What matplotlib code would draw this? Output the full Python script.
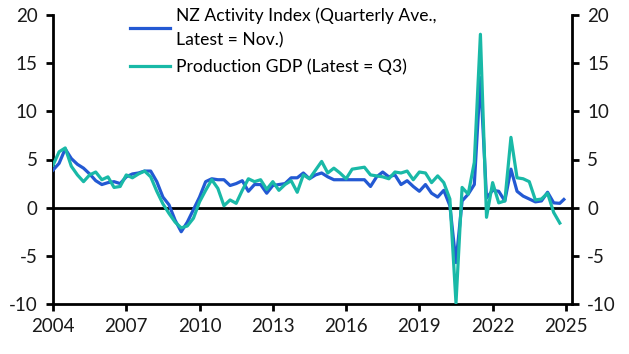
import numpy as np
import matplotlib
matplotlib.use("Agg")
import matplotlib.pyplot as plt

plt.rcParams['font.family'] = ['Lato', 'DejaVu Sans']

# Quarter-end dates (decimal years), 2003Q4 .. 2024Q3
gdp_start = 2004.0
gdp_values = [
    4.4, 5.8, 6.2, 4.3, 3.4, 2.7, 3.4, 3.7, 2.9, 3.2, 2.1, 2.2,
    3.4, 3.1, 3.5, 3.8, 3.2, 1.7, 0.4, -0.6, -1.5, -2.1, -1.9, -1.1,
    0.6, 1.8, 2.9, 2.0, 0.2, 0.8, 0.45, 1.8, 3.0, 2.7, 2.9, 1.9,
    2.7, 1.8, 2.4, 2.8, 1.6, 3.4, 3.0, 3.9, 4.8, 3.6, 4.1, 3.6,
    3.0, 4.0, 4.1, 4.2, 3.4, 3.3, 3.2, 3.0, 3.7, 3.6, 3.8, 2.9,
    3.7, 3.6, 2.6, 3.3, 2.6, 0.9, -9.9, 2.1, 1.4, 4.7, 18.0, -1.0,
    2.6, 0.5, 0.7, 7.3, 3.1, 3.0, 2.7, 0.8, 0.9, 1.5, -0.5, -1.6,
]
activity_values = [
    3.9, 4.6, 6.1, 5.1, 4.5, 4.1, 3.5, 2.8, 2.4, 2.6, 2.7, 2.5,
    3.2, 3.5, 3.6, 3.8, 3.8, 2.7, 1.1, 0.3, -1.3, -2.5, -1.5, -0.2,
    1.1, 2.7, 3.0, 2.9, 2.9, 2.3, 2.5, 2.8, 1.7, 2.4, 2.4, 1.5,
    2.3, 2.4, 2.5, 3.1, 3.1, 3.6, 3.0, 3.4, 3.6, 3.2, 2.9, 2.9,
    2.9, 2.9, 2.9, 2.9, 2.2, 3.2, 3.7, 3.2, 3.4, 2.4, 2.8, 2.2,
    1.7, 2.4, 1.5, 1.1, 1.8, 0.2, -5.7, 0.7, 1.4, 2.4, 13.5, 1.0,
    1.8, 1.7, 0.7, 4.0, 1.7, 1.2, 0.9, 0.6, 0.7, 1.6, 0.5, 0.45,
    0.85,
]
x_ticks = [2004, 2007, 2010, 2013, 2016, 2019, 2022, 2025]
y_ticks = [-10, -5, 0, 5, 10, 15, 20]
label_activity = "NZ Activity Index (Quarterly Ave.,\nLatest = Nov.)"
label_gdp = "Production GDP (Latest = Q3)"

gdp_x = gdp_start + 0.25 * np.arange(len(gdp_values))
act_x = list(gdp_start + 0.25 * np.arange(len(activity_values) - 1)) + [2024 + 11 / 12]

fig = plt.figure(figsize=(6.29, 3.54), dpi=100)
ax = fig.add_axes([53 / 629, 1 - 304 / 354, (572 - 53) / 629, (304 - 15) / 354])

blue = '#2359d3'
teal = '#19b9a7'
ax.axhline(0, color='black', lw=2.0, zorder=1)
l1, = ax.plot(act_x, activity_values, color=blue, lw=2.3, zorder=3, label=label_activity)
l2, = ax.plot(gdp_x, gdp_values, color=teal, lw=2.3, zorder=4, label=label_gdp)

ax.set_xlim(2004, 2025.25)
ax.set_ylim(-10, 20)
ax.set_xticks(x_ticks)
ax.set_xticklabels([str(t) for t in x_ticks])
ax.set_yticks(y_ticks)
ax.set_yticklabels([str(t) for t in y_ticks])

ax.spines['top'].set_visible(False)
for s in ['left', 'right', 'bottom']:
    ax.spines[s].set_linewidth(2.0)
    ax.spines[s].set_color('black')

ax.tick_params(axis='both', which='both', direction='out', length=5, width=2,
               labelsize=13.5, colors='black', labelcolor='#1a1a1a')
ax.tick_params(axis='y', left=True, right=True, labelleft=True, labelright=True, pad=6)
ax.tick_params(axis='x', pad=5)

leg = ax.legend(handles=[l1, l2], loc='upper left', bbox_to_anchor=(123 / 629, 1.0),
                bbox_transform=fig.transFigure, frameon=False, fontsize=12.6,
                handlelength=2.3, handletextpad=0.35, labelspacing=0.6, borderaxespad=0)
for t in leg.get_texts():
    t.set_linespacing(1.65)

fig.savefig('out.png', dpi=100)
